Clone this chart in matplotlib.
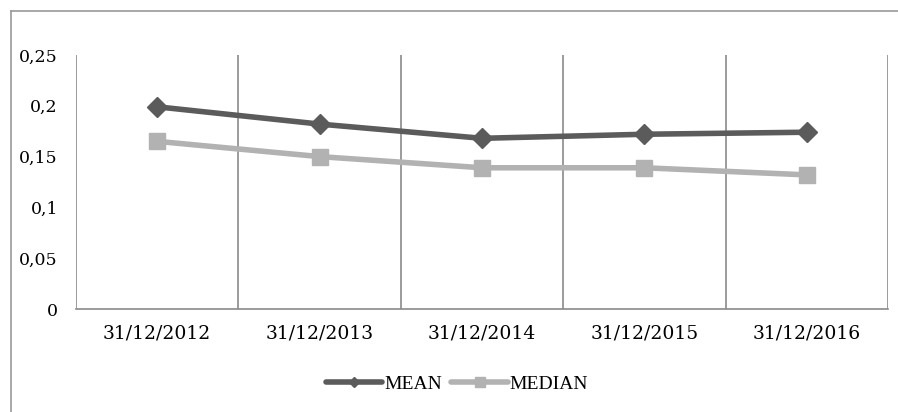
import matplotlib
matplotlib.use("Agg")
import matplotlib.pyplot as plt
from matplotlib.lines import Line2D

# data
dates = ["31/12/2012", "31/12/2013", "31/12/2014", "31/12/2015", "31/12/2016"]
mean_vals = [0.199, 0.182, 0.168, 0.172, 0.174]
median_vals = [0.165, 0.150, 0.139, 0.139, 0.132]
y_ticks = [0, 0.05, 0.1, 0.15, 0.2, 0.25]
y_labels = ["0", "0,05", "0,1", "0,15", "0,2", "0,25"]

mean_color = "#5b5b5b"
median_color = "#b2b2b2"
grid_color = "#8a8a8a"

fig = plt.figure(figsize=(8.98, 4.12), dpi=100)
ax = fig.add_axes([76 / 898, 1 - 309 / 412, 812 / 898, 254 / 412])

x = list(range(len(dates)))
ax.plot(x, mean_vals, color=mean_color, lw=4, marker="D", ms=10,
        label="MEAN", solid_capstyle="round")
ax.plot(x, median_vals, color=median_color, lw=4, marker="s", ms=12,
        label="MEDIAN", solid_capstyle="round")

ax.set_xlim(-0.5, len(dates) - 0.5)
ax.set_ylim(0, 0.25)

# vertical separators between categories
for b in [i - 0.5 for i in range(len(dates) + 1)]:
    ax.axvline(b, color=grid_color, lw=1.2, zorder=0)

for s in ["top", "right", "left"]:
    ax.spines[s].set_visible(False)
ax.spines["bottom"].set_color(grid_color)
ax.spines["bottom"].set_linewidth(1.2)

ax.set_xticks(x)
ax.set_xticklabels(dates, fontfamily="DejaVu Serif", fontsize=13.5)
ax.set_yticks(y_ticks)
ax.set_yticklabels(y_labels, fontfamily="DejaVu Serif", fontsize=12.5)
ax.tick_params(axis="x", length=0, pad=11)
ax.tick_params(axis="y", length=0, pad=13)

leg = fig.legend(loc="center", bbox_to_anchor=(457 / 898, 1 - 384 / 412),
                 ncol=2, frameon=False, prop={"family": "Liberation Serif", "size": 14},
                 handlelength=2.9, handletextpad=0.1, columnspacing=0.5,
                 markerscale=0.55)

# chart border (left and top edges)
fig.add_artist(Line2D([11 / 898, 11 / 898], [0, 1 - 11 / 412],
                      color="#9a9a9a", lw=1.2, transform=fig.transFigure))
fig.add_artist(Line2D([11 / 898, 1], [1 - 11 / 412, 1 - 11 / 412],
                      color="#9a9a9a", lw=1.2, transform=fig.transFigure))

fig.savefig("out.png", dpi=100)
